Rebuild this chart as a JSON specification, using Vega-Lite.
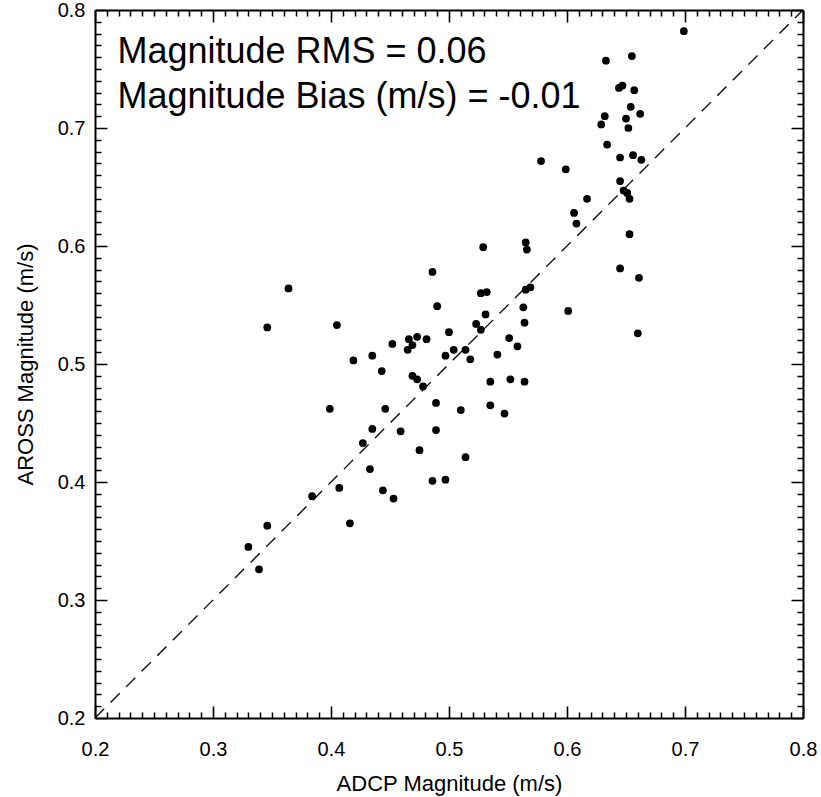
{
  "$schema": "https://vega.github.io/schema/vega-lite/v6.json",
  "width": 708,
  "height": 708,
  "autosize": "none",
  "padding": {"left": 95, "top": 10, "right": 18, "bottom": 79},
  "background": "white",
  "config": {
    "view": {"stroke": null},
    "axis": {
      "grid": false,
      "domainColor": "black",
      "domainWidth": 2,
      "ticks": false,
      "tickSize": 0,
      "gridColor": "black",
      "gridOpacity": 1,
      "labelFont": "Liberation Sans",
      "labelFontSize": 20,
      "labelColor": "black",
      "titleFont": "Liberation Sans",
      "titleFontSize": 22,
      "titleFontWeight": "normal",
      "titleColor": "black",
      "labelOverlap": false,
      "labelFlush": false,
      "labelBound": false
    }
  },
  "datasets": {
    "pts": [
      {"adcp": 0.699, "aross": 0.782}, {"adcp": 0.633, "aross": 0.757}, {"adcp": 0.655, "aross": 0.761},
      {"adcp": 0.644, "aross": 0.734}, {"adcp": 0.647, "aross": 0.736}, {"adcp": 0.657, "aross": 0.732},
      {"adcp": 0.654, "aross": 0.718}, {"adcp": 0.662, "aross": 0.712}, {"adcp": 0.632, "aross": 0.710},
      {"adcp": 0.629, "aross": 0.703}, {"adcp": 0.650, "aross": 0.708}, {"adcp": 0.652, "aross": 0.700},
      {"adcp": 0.634, "aross": 0.686}, {"adcp": 0.645, "aross": 0.675}, {"adcp": 0.656, "aross": 0.677},
      {"adcp": 0.663, "aross": 0.673}, {"adcp": 0.578, "aross": 0.672}, {"adcp": 0.599, "aross": 0.665},
      {"adcp": 0.645, "aross": 0.655}, {"adcp": 0.648, "aross": 0.647}, {"adcp": 0.651, "aross": 0.645},
      {"adcp": 0.653, "aross": 0.640}, {"adcp": 0.617, "aross": 0.640}, {"adcp": 0.606, "aross": 0.628},
      {"adcp": 0.608, "aross": 0.619}, {"adcp": 0.653, "aross": 0.610}, {"adcp": 0.529, "aross": 0.599},
      {"adcp": 0.565, "aross": 0.603}, {"adcp": 0.566, "aross": 0.597}, {"adcp": 0.645, "aross": 0.581},
      {"adcp": 0.661, "aross": 0.573}, {"adcp": 0.527, "aross": 0.560}, {"adcp": 0.532, "aross": 0.561},
      {"adcp": 0.565, "aross": 0.563}, {"adcp": 0.569, "aross": 0.565}, {"adcp": 0.601, "aross": 0.545},
      {"adcp": 0.563, "aross": 0.548}, {"adcp": 0.531, "aross": 0.542}, {"adcp": 0.564, "aross": 0.535},
      {"adcp": 0.523, "aross": 0.534}, {"adcp": 0.527, "aross": 0.529}, {"adcp": 0.500, "aross": 0.527},
      {"adcp": 0.660, "aross": 0.526}, {"adcp": 0.551, "aross": 0.522}, {"adcp": 0.558, "aross": 0.515},
      {"adcp": 0.504, "aross": 0.512}, {"adcp": 0.514, "aross": 0.512}, {"adcp": 0.497, "aross": 0.507},
      {"adcp": 0.518, "aross": 0.504}, {"adcp": 0.541, "aross": 0.508}, {"adcp": 0.535, "aross": 0.485},
      {"adcp": 0.552, "aross": 0.487}, {"adcp": 0.564, "aross": 0.485}, {"adcp": 0.510, "aross": 0.461},
      {"adcp": 0.535, "aross": 0.465}, {"adcp": 0.547, "aross": 0.458}, {"adcp": 0.514, "aross": 0.421},
      {"adcp": 0.497, "aross": 0.402}, {"adcp": 0.486, "aross": 0.578}, {"adcp": 0.364, "aross": 0.564},
      {"adcp": 0.490, "aross": 0.549}, {"adcp": 0.346, "aross": 0.531}, {"adcp": 0.405, "aross": 0.533},
      {"adcp": 0.452, "aross": 0.517}, {"adcp": 0.466, "aross": 0.521}, {"adcp": 0.473, "aross": 0.523},
      {"adcp": 0.481, "aross": 0.521}, {"adcp": 0.469, "aross": 0.516}, {"adcp": 0.465, "aross": 0.512},
      {"adcp": 0.419, "aross": 0.503}, {"adcp": 0.435, "aross": 0.507}, {"adcp": 0.443, "aross": 0.494},
      {"adcp": 0.469, "aross": 0.490}, {"adcp": 0.473, "aross": 0.487}, {"adcp": 0.478, "aross": 0.481},
      {"adcp": 0.399, "aross": 0.462}, {"adcp": 0.446, "aross": 0.462}, {"adcp": 0.489, "aross": 0.467},
      {"adcp": 0.435, "aross": 0.445}, {"adcp": 0.459, "aross": 0.443}, {"adcp": 0.489, "aross": 0.444},
      {"adcp": 0.427, "aross": 0.433}, {"adcp": 0.475, "aross": 0.427}, {"adcp": 0.433, "aross": 0.411},
      {"adcp": 0.486, "aross": 0.401}, {"adcp": 0.407, "aross": 0.395}, {"adcp": 0.444, "aross": 0.393},
      {"adcp": 0.384, "aross": 0.388}, {"adcp": 0.453, "aross": 0.386}, {"adcp": 0.416, "aross": 0.365},
      {"adcp": 0.346, "aross": 0.363}, {"adcp": 0.330, "aross": 0.345}, {"adcp": 0.339, "aross": 0.326}
    ],
    "ref": [{"adcp": 0.2, "aross": 0.2}, {"adcp": 0.8, "aross": 0.8}],
    "notes": [
      {"adcp": 0.219, "aross": 0.755, "label": "Magnitude RMS = 0.06"},
      {"adcp": 0.219, "aross": 0.717, "label": "Magnitude Bias (m/s) = -0.01"}
    ]
  },
  "layer": [
    {
      "data": {"name": "ref"},
      "mark": {"type": "line", "color": "black", "strokeWidth": 1.3, "strokeDash": [13, 9]},
      "encoding": {
        "x": {"field": "adcp", "type": "quantitative", "scale": {"domain": [0.2, 0.8], "nice": false, "zero": false},
          "axis": {"orient": "bottom", "title": "ADCP Magnitude (m/s)", "values": [0.2, 0.3, 0.4, 0.5, 0.6, 0.7, 0.8], "format": ".1f",
            "grid": true, "gridDash": [12, 684], "gridWidth": 1.6, "labelPadding": 21, "titlePadding": 14}},
        "y": {"field": "aross", "type": "quantitative", "scale": {"domain": [0.2, 0.8], "nice": false, "zero": false},
          "axis": {"orient": "left", "title": "AROSS Magnitude (m/s)", "values": [0.2, 0.3, 0.4, 0.5, 0.6, 0.7, 0.8], "format": ".1f",
            "grid": true, "gridDash": [12, 684], "gridWidth": 1.6, "labelPadding": 10, "titlePadding": 20}}
      }
    },
    {
      "data": {"name": "pts"},
      "mark": {"type": "circle", "size": 60, "color": "black", "opacity": 1},
      "encoding": {
        "x": {"field": "adcp", "type": "quantitative", "scale": {"domain": [0.2, 0.8], "nice": false, "zero": false}, "axis": null},
        "y": {"field": "aross", "type": "quantitative", "scale": {"domain": [0.2, 0.8], "nice": false, "zero": false}, "axis": null}
      }
    },
    {
      "data": {"name": "notes"},
      "mark": {"type": "text", "font": "Liberation Sans", "fontSize": 36, "align": "left", "baseline": "alphabetic", "color": "black"},
      "encoding": {
        "x": {"field": "adcp", "type": "quantitative", "scale": {"domain": [0.2, 0.8], "nice": false, "zero": false},
          "axis": {"orient": "top", "title": null, "labels": false, "domain": true, "grid": true, "gridDash": [6, 696], "gridWidth": 1.5,
            "values": [0.21,0.22,0.23,0.24,0.25,0.26,0.27,0.28,0.29,0.31,0.32,0.33,0.34,0.35,0.36,0.37,0.38,0.39,0.41,0.42,0.43,0.44,0.45,0.46,0.47,0.48,0.49,0.51,0.52,0.53,0.54,0.55,0.56,0.57,0.58,0.59,0.61,0.62,0.63,0.64,0.65,0.66,0.67,0.68,0.69,0.71,0.72,0.73,0.74,0.75,0.76,0.77,0.78,0.79]}},
        "y": {"field": "aross", "type": "quantitative", "scale": {"domain": [0.2, 0.8], "nice": false, "zero": false},
          "axis": {"orient": "right", "title": null, "labels": false, "domain": true, "grid": true, "gridDash": [6, 696], "gridWidth": 1.5,
            "values": [0.21,0.22,0.23,0.24,0.25,0.26,0.27,0.28,0.29,0.31,0.32,0.33,0.34,0.35,0.36,0.37,0.38,0.39,0.41,0.42,0.43,0.44,0.45,0.46,0.47,0.48,0.49,0.51,0.52,0.53,0.54,0.55,0.56,0.57,0.58,0.59,0.61,0.62,0.63,0.64,0.65,0.66,0.67,0.68,0.69,0.71,0.72,0.73,0.74,0.75,0.76,0.77,0.78,0.79]}},
        "text": {"field": "label"}
      }
    }
  ],
  "resolve": {"axis": {"x": "independent", "y": "independent"}}
}
